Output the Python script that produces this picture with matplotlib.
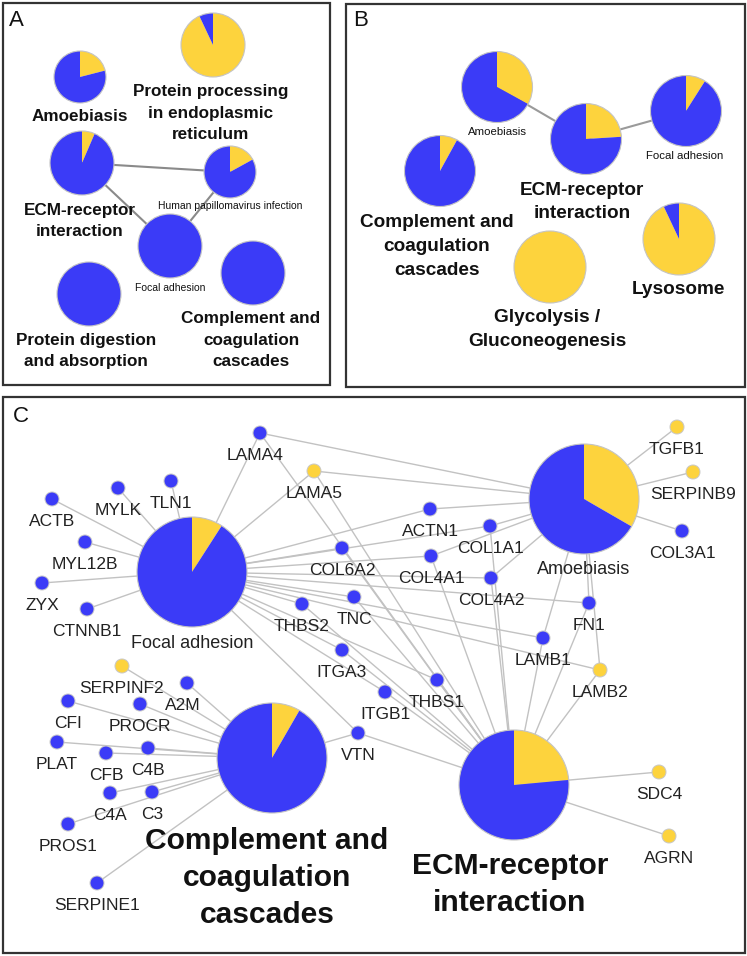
import matplotlib.pyplot as plt
from matplotlib.patches import Wedge, Circle, Rectangle

plt.rcParams['font.family'] = ['Liberation Sans', 'DejaVu Sans']

BLUE = '#3b3bf7'
YELLOW = '#fdd33d'

# ---- panel A: enriched pathways, share of up-regulated genes (yellow)
a_names = ["Amoebiasis",
           "Protein processing\nin endoplasmic\nreticulum",
           "ECM-receptor\ninteraction",
           "Human papillomavirus infection",
           "Focal adhesion",
           "Protein digestion\nand absorption",
           "Complement and\ncoagulation\ncascades"]
a_up_share = [0.21, 0.93, 0.065, 0.17, 0.0, 0.0, 0.0]
a_links = [(2, 3), (2, 4), (4, 3)]

# ---- panel B
b_names = ["Amoebiasis",
           "ECM-receptor\ninteraction",
           "Focal adhesion",
           "Complement and\ncoagulation\ncascades",
           "Glycolysis /\nGluconeogenesis",
           "Lysosome"]
b_up_share = [0.33, 0.24, 0.09, 0.08, 1.0, 0.93]
b_links = [(0, 1), (1, 2)]

# ---- panel C: pathway-gene network
focal_genes = ["ACTB", "MYLK", "TLN1", "MYL12B", "ZYX", "CTNNB1", "LAMA4", "LAMA5",
               "COL6A2", "ACTN1", "COL1A1", "COL4A1", "COL4A2", "THBS2", "TNC",
               "ITGA3", "THBS1", "ITGB1", "VTN", "LAMB1", "LAMB2", "FN1"]
amoeb_genes = ["LAMA4", "LAMA5", "ACTN1", "COL1A1", "COL4A1", "COL4A2", "TGFB1",
               "SERPINB9", "COL3A1", "LAMB1", "LAMB2", "FN1"]
compl_genes = ["SERPINF2", "A2M", "CFI", "PROCR", "PLAT", "CFB", "C4B", "C4A", "C3",
               "PROS1", "SERPINE1", "VTN"]
ecm_genes = ["LAMA4", "LAMA5", "COL6A2", "COL1A1", "COL4A1", "COL4A2", "THBS2", "TNC",
             "ITGA3", "THBS1", "ITGB1", "VTN", "LAMB1", "LAMB2", "FN1", "SDC4", "AGRN"]
up_genes = ["LAMA5", "TGFB1", "SERPINB9", "LAMB2", "SDC4", "AGRN", "SERPINF2"]
c_pathways = {"Focal adhesion": focal_genes,
              "Amoebiasis": amoeb_genes,
              "Complement and\ncoagulation\ncascades": compl_genes,
              "ECM-receptor\ninteraction": ecm_genes}

# ---- layout (pixel space, y down)
a_layout = [(80, 77, 26, 80, 115, 'A'), (213, 45, 32, 211, 111.5, 'A'),
            (82, 163, 32, 80, 219.5, 'A'), (230, 172, 26, 230, 205, 'As'),
            (170, 246, 32, 170, 287, 'As'), (89, 294, 32, 86, 349.5, 'A'),
            (253, 273, 32, 251, 338.5, 'A')]
b_layout = [(497, 87, 35.5, 497, 131, 'Bs'), (586, 139, 35.5, 582, 200, 'B'),
            (686, 111, 35.5, 685, 155, 'Bs'), (440, 171, 35.5, 437, 244.5, 'B'),
            (550, 267, 36, 547, 327.5, 'B'), (679, 239, 36, 678, 288, 'B')]
c_layout = {"Focal adhesion": (192, 572, 55, 192, 642, 'Cm'),
            "Amoebiasis": (584, 499, 55, 584, 568, 'Cm'),
            "Complement and\ncoagulation\ncascades": (272, 758, 55, 267, 875, 'C'),
            "ECM-receptor\ninteraction": (514, 785, 55, 510, 881.5, 'C')}
gene_xy = {"LAMA4": (260, 433), "LAMA5": (314, 471), "TLN1": (171, 481),
           "MYLK": (118, 488), "ACTB": (52, 499), "MYL12B": (85, 542),
           "ZYX": (42, 583), "CTNNB1": (87, 609), "COL6A2": (342, 548),
           "ACTN1": (430, 509), "COL1A1": (490, 526), "COL4A1": (431, 556),
           "COL4A2": (491, 578), "TNC": (354, 597), "THBS2": (302, 604),
           "ITGA3": (342, 650), "THBS1": (437, 680), "ITGB1": (385, 692),
           "VTN": (358, 733), "LAMB1": (543, 638), "FN1": (589, 603),
           "LAMB2": (600, 670), "SDC4": (659, 772), "AGRN": (669, 836),
           "TGFB1": (677, 427), "SERPINB9": (693, 472), "COL3A1": (682, 531),
           "SERPINF2": (122, 666), "A2M": (187, 683), "CFI": (68, 701),
           "PROCR": (140, 704), "PLAT": (57, 742), "CFB": (106, 753),
           "C4B": (148, 748), "C4A": (110, 793), "C3": (152, 792),
           "PROS1": (68, 824), "SERPINE1": (97, 883)}
label_shift = {"LAMA4": -5, "A2M": -4}

styles = {'A': (12.3, 'bold'), 'As': (7.5, 'normal'), 'B': (13.7, 'bold'),
          'Bs': (8.2, 'normal'), 'C': (21.6, 'bold'), 'Cm': (13, 'normal')}

fig = plt.figure(figsize=(7.47, 9.56), dpi=100)
ax = fig.add_axes([0, 0, 1, 1])
ax.set_xlim(0, 747)
ax.set_ylim(956, 0)
ax.axis('off')


def pie(cx, cy, r, up):
    start = -90 + 360 * up
    if up > 0:
        ax.add_patch(Wedge((cx, cy), r, -90, start, fc=YELLOW, ec='none', zorder=3))
    if up < 1:
        ax.add_patch(Wedge((cx, cy), r, start, 270, fc=BLUE, ec='none', zorder=3))
    ax.add_patch(Circle((cx, cy), r, fc='none', ec='#c4c4c4', lw=0.8, zorder=3))


def label(x, y, text, style, color='#111111'):
    size, weight = styles[style]
    lines = text.split("\n")
    step = size * 100 / 72 * 1.24
    y0 = y - step * (len(lines) - 1) / 2
    for i, line in enumerate(lines):
        ax.text(x, y0 + i * step, line, fontsize=size, fontweight=weight,
                ha='center', va='center_baseline', color=color, zorder=5)


# frames and panel letters
for x0, y0, w, h in [(3, 3, 327, 382), (346, 4, 399, 383), (3, 397, 742, 556)]:
    ax.add_patch(Rectangle((x0, y0), w, h, fill=False, ec='#333333', lw=1.6))
for letter, lx, ly in [("A", 16, 20), ("B", 361, 20), ("C", 21, 417)]:
    ax.text(lx, ly, letter, fontsize=16, ha='center', va='center', color='#111111')

# panel A and B
for names, shares, links, layout, col in [(a_names, a_up_share, a_links, a_layout, '#8a8a8a'),
                                          (b_names, b_up_share, b_links, b_layout, '#9a9a9a')]:
    for i, j in links:
        ax.plot([layout[i][0], layout[j][0]], [layout[i][1], layout[j][1]],
                color=col, lw=1.5, zorder=1)
    for name, up, (cx, cy, r, lx, ly, st) in zip(names, shares, layout):
        pie(cx, cy, r, up)
        label(lx, ly, name, st)

# panel C
for path, genes in c_pathways.items():
    cx, cy = c_layout[path][:2]
    for g in genes:
        gx, gy = gene_xy[g]
        ax.plot([cx, gx], [cy, gy], color='#c2c2c2', lw=1.0, zorder=1)

for path, genes in c_pathways.items():
    cx, cy, r, lx, ly, st = c_layout[path]
    up = sum(g in up_genes for g in genes) / len(genes)
    pie(cx, cy, r, up)
    label(lx, ly, path, st, color='#111111' if st == 'C' else '#222222')

for g, (gx, gy) in gene_xy.items():
    fc = YELLOW if g in up_genes else BLUE
    ax.add_patch(Circle((gx, gy), 7, fc=fc, ec='#c8c8c8', lw=0.7, zorder=3))
    ax.text(gx + label_shift.get(g, 0), gy + 21, g, fontsize=12.5, ha='center',
            va='center_baseline', color='#222222', zorder=5)

fig.savefig("out.png", dpi=100)
